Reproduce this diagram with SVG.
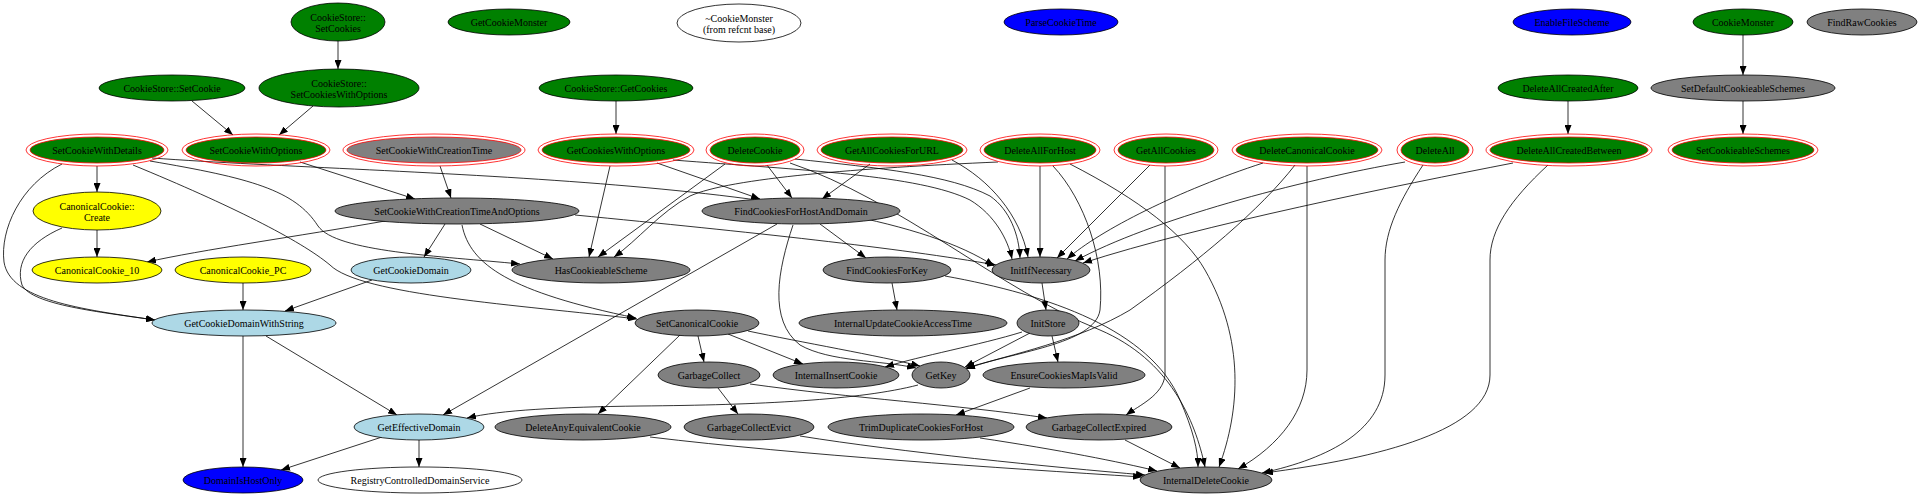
<svg xmlns="http://www.w3.org/2000/svg" width="1920" height="496" viewBox="0 0 1920 496">
<style>
.n ellipse{stroke:#000;stroke-width:0.8}
.g ellipse{fill:#008000}
.gr ellipse{fill:#808080}
.lb ellipse{fill:#add8e6}
.y ellipse{fill:#ffff00}
.b ellipse{fill:#0000ff}
.w ellipse{fill:#ffffff}
.d ellipse{stroke:#ff0000}
.d ellipse.o{fill:none}
text{font-family:"Liberation Serif","Times New Roman",serif;font-size:10px;text-anchor:middle;fill:#000}
#edges path{fill:none;stroke:#000;stroke-width:0.8;marker-end:url(#ah)}
</style>
<defs>
<marker id="ah" markerWidth="9" markerHeight="7" refX="9" refY="3.5" orient="auto" markerUnits="userSpaceOnUse"><path d="M0,0 L9,3.5 L0,7 z" fill="#000"/></marker>
</defs>
<rect width="1920" height="496" fill="#fff"/>
<g id="edges">
<path d="M338,41 L338,69"/>
<path d="M192,101 L233,135"/>
<path d="M313,106 L279,135"/>
<path d="M616,101 L616,134"/>
<path d="M1743,35 L1743,75"/>
<path d="M1743,101 L1743,134"/>
<path d="M1568,101 L1568,134"/>
<path d="M97,166 L97,192"/>
<path d="M62,164 C20,185 0,230 4,262 C10,300 80,309 155,320"/>
<path d="M62,228 C30,242 15,262 22,285 C32,305 100,312 155,320"/>
<path d="M97,230 L97,257"/>
<path d="M152,158 C400,176 860,176 994,266"/>
<path d="M150,161 C250,178 295,190 318,226 C336,252 440,256 520,264"/>
<path d="M133,165 C230,205 300,240 330,265 C360,295 520,305 637,319"/>
<path d="M300,162 L415,199"/>
<path d="M440,166 L451,198"/>
<path d="M385,221 C300,236 200,250 147,262"/>
<path d="M445,224 L424,257"/>
<path d="M480,224 L553,259"/>
<path d="M575,215 C750,232 900,248 996,265"/>
<path d="M462,225 C470,265 510,292 636,318"/>
<path d="M243,283 L243,310"/>
<path d="M372,280 L285,311"/>
<path d="M243,336 L243,467"/>
<path d="M266,336 L397,415"/>
<path d="M382,437 L281,470"/>
<path d="M419,440 L419,467"/>
<path d="M610,166 L589,257"/>
<path d="M725,164 L598,257"/>
<path d="M998,162 C860,168 730,178 690,196 C660,212 638,240 614,257"/>
<path d="M657,163 L760,199"/>
<path d="M767,165 L792,198"/>
<path d="M870,164 L822,199"/>
<path d="M673,160 C800,170 920,175 970,200 C995,215 1008,240 1012,259"/>
<path d="M795,159 C880,168 950,175 990,196 C1010,210 1019,235 1020,258"/>
<path d="M952,160 C990,180 1020,215 1028,257"/>
<path d="M1040,166 L1040,257"/>
<path d="M1150,165 L1057,258"/>
<path d="M1263,163 C1180,190 1100,230 1067,259"/>
<path d="M1405,162 C1300,180 1150,220 1075,261"/>
<path d="M1513,163 C1400,185 1200,225 1083,263"/>
<path d="M790,163 C900,200 1000,290 1100,330 C1170,360 1195,420 1205,467"/>
<path d="M945,276 C1050,295 1150,330 1180,400 C1193,430 1198,450 1198,467"/>
<path d="M1070,164 C1140,200 1185,235 1205,270 C1245,340 1240,410 1219,467"/>
<path d="M1307,166 L1307,370 C1307,410 1280,445 1238,469"/>
<path d="M1423,165 C1400,200 1385,230 1385,260 L1385,375 C1385,430 1330,458 1262,473"/>
<path d="M1548,165 C1510,200 1490,230 1490,260 L1490,375 C1490,430 1380,458 1264,473"/>
<path d="M1053,166 C1085,200 1105,260 1100,310 C1095,345 1010,352 966,369"/>
<path d="M1295,165 C1260,210 1200,260 1130,310 C1080,340 1010,355 966,368"/>
<path d="M1042,283 L1046,310"/>
<path d="M1022,332 C980,345 920,356 885,367"/>
<path d="M1030,333 L965,367"/>
<path d="M1052,336 L1058,362"/>
<path d="M820,224 L866,258"/>
<path d="M777,224 L443,415"/>
<path d="M793,225 C778,270 768,320 800,345 C830,362 880,360 916,368"/>
<path d="M892,283 L897,310"/>
<path d="M698,336 L704,362"/>
<path d="M728,334 L803,364"/>
<path d="M748,331 C800,342 880,356 920,366"/>
<path d="M680,335 L598,414"/>
<path d="M718,388 L738,414"/>
<path d="M750,384 C850,398 960,405 1047,418"/>
<path d="M918,385 C860,400 760,405 640,406 C560,407 500,410 467,418"/>
<path d="M1030,388 L956,415"/>
<path d="M1165,166 L1165,375 C1163,395 1140,405 1126,415"/>
<path d="M650,437 C800,455 1000,468 1142,477"/>
<path d="M800,436 C900,452 1050,467 1145,475"/>
<path d="M980,438 C1060,450 1120,462 1157,471"/>
<path d="M1125,440 L1180,468"/>
</g>
<g id="CookieStore_SetCookies" class="n g"><ellipse cx="338" cy="22" rx="47" ry="19"/><text x="338" y="20.5">CookieStore::</text><text x="338" y="31.5">SetCookies</text></g>
<g id="GetCookieMonster" class="n g"><ellipse cx="509" cy="22" rx="61" ry="13"/><text x="509" y="25.5">GetCookieMonster</text></g>
<g id="_CookieMonster" class="n w"><ellipse cx="739" cy="23" rx="62" ry="19"/><text x="739" y="21.5">~CookieMonster</text><text x="739" y="32.5">(from refcnt base)</text></g>
<g id="ParseCookieTime" class="n b"><ellipse cx="1061" cy="22" rx="57" ry="13"/><text x="1061" y="25.5">ParseCookieTime</text></g>
<g id="EnableFileScheme" class="n b"><ellipse cx="1572" cy="22" rx="59" ry="13"/><text x="1572" y="25.5">EnableFileScheme</text></g>
<g id="CookieMonster" class="n g"><ellipse cx="1743" cy="22" rx="50" ry="13"/><text x="1743" y="25.5">CookieMonster</text></g>
<g id="FindRawCookies" class="n gr"><ellipse cx="1862" cy="22" rx="55" ry="13"/><text x="1862" y="25.5">FindRawCookies</text></g>
<g id="CookieStore_SetCookie" class="n g"><ellipse cx="172" cy="88" rx="73" ry="13"/><text x="172" y="91.5">CookieStore::SetCookie</text></g>
<g id="CookieStore_SetCookiesWithOptions" class="n g"><ellipse cx="339" cy="88" rx="80" ry="19"/><text x="339" y="86.5">CookieStore::</text><text x="339" y="97.5">SetCookiesWithOptions</text></g>
<g id="CookieStore_GetCookies" class="n g"><ellipse cx="616" cy="88" rx="77" ry="13"/><text x="616" y="91.5">CookieStore::GetCookies</text></g>
<g id="DeleteAllCreatedAfter" class="n g"><ellipse cx="1568" cy="88" rx="70" ry="13"/><text x="1568" y="91.5">DeleteAllCreatedAfter</text></g>
<g id="SetDefaultCookieableSchemes" class="n gr"><ellipse cx="1743" cy="88" rx="92" ry="13"/><text x="1743" y="91.5">SetDefaultCookieableSchemes</text></g>
<g id="SetCookieWithDetails" class="n g d"><ellipse class="o" cx="97" cy="150" rx="71" ry="16"/><ellipse cx="97" cy="150" rx="67" ry="13"/><text x="97" y="153.5">SetCookieWithDetails</text></g>
<g id="SetCookieWithOptions" class="n g d"><ellipse class="o" cx="256" cy="150" rx="74" ry="16"/><ellipse cx="256" cy="150" rx="70" ry="13"/><text x="256" y="153.5">SetCookieWithOptions</text></g>
<g id="SetCookieWithCreationTime" class="n gr d"><ellipse class="o" cx="434" cy="150" rx="91" ry="16"/><ellipse cx="434" cy="150" rx="87" ry="13"/><text x="434" y="153.5">SetCookieWithCreationTime</text></g>
<g id="GetCookiesWithOptions" class="n g d"><ellipse class="o" cx="616" cy="150" rx="78" ry="16"/><ellipse cx="616" cy="150" rx="74" ry="13"/><text x="616" y="153.5">GetCookiesWithOptions</text></g>
<g id="DeleteCookie" class="n g d"><ellipse class="o" cx="755" cy="150" rx="49" ry="16"/><ellipse cx="755" cy="150" rx="45" ry="13"/><text x="755" y="153.5">DeleteCookie</text></g>
<g id="GetAllCookiesForURL" class="n g d"><ellipse class="o" cx="892" cy="150" rx="75" ry="16"/><ellipse cx="892" cy="150" rx="71" ry="13"/><text x="892" y="153.5">GetAllCookiesForURL</text></g>
<g id="DeleteAllForHost" class="n g d"><ellipse class="o" cx="1040" cy="150" rx="60" ry="16"/><ellipse cx="1040" cy="150" rx="56" ry="13"/><text x="1040" y="153.5">DeleteAllForHost</text></g>
<g id="GetAllCookies" class="n g d"><ellipse class="o" cx="1166" cy="150" rx="52" ry="16"/><ellipse cx="1166" cy="150" rx="48" ry="13"/><text x="1166" y="153.5">GetAllCookies</text></g>
<g id="DeleteCanonicalCookie" class="n g d"><ellipse class="o" cx="1307" cy="150" rx="75" ry="16"/><ellipse cx="1307" cy="150" rx="71" ry="13"/><text x="1307" y="153.5">DeleteCanonicalCookie</text></g>
<g id="DeleteAll" class="n g d"><ellipse class="o" cx="1435" cy="150" rx="38" ry="16"/><ellipse cx="1435" cy="150" rx="34" ry="13"/><text x="1435" y="153.5">DeleteAll</text></g>
<g id="DeleteAllCreatedBetween" class="n g d"><ellipse class="o" cx="1569" cy="150" rx="83" ry="16"/><ellipse cx="1569" cy="150" rx="79" ry="13"/><text x="1569" y="153.5">DeleteAllCreatedBetween</text></g>
<g id="SetCookieableSchemes" class="n g d"><ellipse class="o" cx="1743" cy="150" rx="75" ry="16"/><ellipse cx="1743" cy="150" rx="71" ry="13"/><text x="1743" y="153.5">SetCookieableSchemes</text></g>
<g id="CanonicalCookie_Create" class="n y"><ellipse cx="97" cy="211" rx="64" ry="19"/><text x="97" y="209.5">CanonicalCookie::</text><text x="97" y="220.5">Create</text></g>
<g id="SetCookieWithCreationTimeAndOptions" class="n gr"><ellipse cx="457" cy="211" rx="122" ry="13"/><text x="457" y="214.5">SetCookieWithCreationTimeAndOptions</text></g>
<g id="FindCookiesForHostAndDomain" class="n gr"><ellipse cx="801" cy="211" rx="99" ry="13"/><text x="801" y="214.5">FindCookiesForHostAndDomain</text></g>
<g id="CanonicalCookie_10" class="n y"><ellipse cx="97" cy="270" rx="65" ry="13"/><text x="97" y="273.5">CanonicalCookie_10</text></g>
<g id="CanonicalCookie_PC" class="n y"><ellipse cx="243" cy="270" rx="68" ry="13"/><text x="243" y="273.5">CanonicalCookie_PC</text></g>
<g id="GetCookieDomain" class="n lb"><ellipse cx="411" cy="270" rx="60" ry="13"/><text x="411" y="273.5">GetCookieDomain</text></g>
<g id="HasCookieableScheme" class="n gr"><ellipse cx="601" cy="270" rx="89" ry="13"/><text x="601" y="273.5">HasCookieableScheme</text></g>
<g id="FindCookiesForKey" class="n gr"><ellipse cx="887" cy="270" rx="64" ry="13"/><text x="887" y="273.5">FindCookiesForKey</text></g>
<g id="InitIfNecessary" class="n gr"><ellipse cx="1041" cy="270" rx="49" ry="13"/><text x="1041" y="273.5">InitIfNecessary</text></g>
<g id="GetCookieDomainWithString" class="n lb"><ellipse cx="244" cy="323" rx="92" ry="13"/><text x="244" y="326.5">GetCookieDomainWithString</text></g>
<g id="SetCanonicalCookie" class="n gr"><ellipse cx="697" cy="323" rx="62" ry="13"/><text x="697" y="326.5">SetCanonicalCookie</text></g>
<g id="InternalUpdateCookieAccessTime" class="n gr"><ellipse cx="903" cy="323" rx="104" ry="13"/><text x="903" y="326.5">InternalUpdateCookieAccessTime</text></g>
<g id="InitStore" class="n gr"><ellipse cx="1048" cy="323" rx="31" ry="13"/><text x="1048" y="326.5">InitStore</text></g>
<g id="GarbageCollect" class="n gr"><ellipse cx="709" cy="375" rx="51" ry="13"/><text x="709" y="378.5">GarbageCollect</text></g>
<g id="InternalInsertCookie" class="n gr"><ellipse cx="836" cy="375" rx="63" ry="13"/><text x="836" y="378.5">InternalInsertCookie</text></g>
<g id="GetKey" class="n gr"><ellipse cx="941" cy="375" rx="29" ry="13"/><text x="941" y="378.5">GetKey</text></g>
<g id="EnsureCookiesMapIsValid" class="n gr"><ellipse cx="1064" cy="375" rx="81" ry="13"/><text x="1064" y="378.5">EnsureCookiesMapIsValid</text></g>
<g id="GetEffectiveDomain" class="n lb"><ellipse cx="419" cy="427" rx="65" ry="13"/><text x="419" y="430.5">GetEffectiveDomain</text></g>
<g id="DeleteAnyEquivalentCookie" class="n gr"><ellipse cx="583" cy="427" rx="88" ry="13"/><text x="583" y="430.5">DeleteAnyEquivalentCookie</text></g>
<g id="GarbageCollectEvict" class="n gr"><ellipse cx="749" cy="427" rx="65" ry="13"/><text x="749" y="430.5">GarbageCollectEvict</text></g>
<g id="TrimDuplicateCookiesForHost" class="n gr"><ellipse cx="921" cy="427" rx="93" ry="13"/><text x="921" y="430.5">TrimDuplicateCookiesForHost</text></g>
<g id="GarbageCollectExpired" class="n gr"><ellipse cx="1099" cy="427" rx="73" ry="13"/><text x="1099" y="430.5">GarbageCollectExpired</text></g>
<g id="DomainIsHostOnly" class="n b"><ellipse cx="243" cy="480" rx="60" ry="13"/><text x="243" y="483.5">DomainIsHostOnly</text></g>
<g id="RegistryControlledDomainService" class="n w"><ellipse cx="420" cy="480" rx="102" ry="13"/><text x="420" y="483.5">RegistryControlledDomainService</text></g>
<g id="InternalDeleteCookie" class="n gr"><ellipse cx="1206" cy="480" rx="66" ry="13"/><text x="1206" y="483.5">InternalDeleteCookie</text></g>
</svg>
